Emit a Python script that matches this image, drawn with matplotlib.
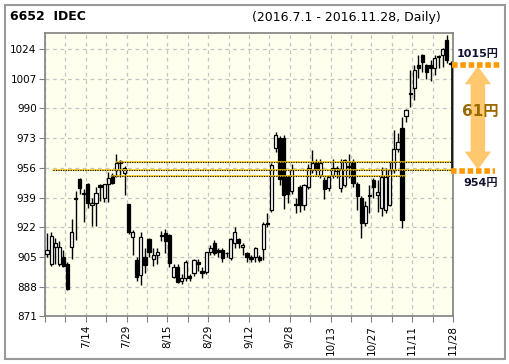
import matplotlib
matplotlib.use("Agg")
import matplotlib.pyplot as plt
from matplotlib.patches import Rectangle, FancyArrowPatch, ArrowStyle
import numpy as np

# daily OHLC, 2016-07-01 .. 2016-11-28 (100 trading days)
opens = [906.5, 901, 911, 901, 905, 901, 910.5, 938, 949.5, 941,
         946.6, 934.8, 936, 946, 939, 946.6, 951.9, 954.8, 960, 952.9,
         935.2, 916.2, 903, 894.7, 905, 915.5, 904, 906, 917.5, 918.6,
         917.6, 893.5, 899, 891, 892.8, 894, 895.7, 902, 897, 896.6,
         908, 912.8, 909, 909, 907.5, 904.3, 912.8, 915.3, 910.5, 907.1,
         905, 904.8, 905, 909.4, 924.5, 931.9, 967.2, 973, 973, 951,
         943, 935.5, 945.2, 934.8, 945.2, 954.8, 958.6, 951.9, 949, 944.3,
         951.9, 954, 944.3, 946.2, 957, 959.6, 946.8, 938.6, 924.3, 940.2,
         949, 940.5, 932.9, 931.9, 935, 954.8, 966.7, 978.7, 985.9, 999,
         1001.5, 1014.9, 1020.6, 1014.9, 1014.9, 1013, 1020, 1020.6, 1029.2, 1016]
highs = [919, 919.5, 916, 914, 909, 902, 927, 943, 950, 944,
         947.5, 938.6, 945, 947, 947, 953.8, 953, 963.8, 960.5, 957.2,
         935.5, 920.4, 905, 919.5, 910, 916, 910, 910, 920, 921,
         918, 901, 901, 895, 903, 895, 904, 904, 899, 908,
         912, 915, 910, 910, 908, 916, 922, 916, 913, 908,
         906, 911, 906, 925, 930, 959, 976.5, 974, 975, 952,
         958, 939, 946, 947, 958, 966, 961, 961, 951, 952,
         961, 957, 961, 961, 964, 961, 948, 940, 937, 946,
         950, 949, 956.7, 956, 960, 977.7, 976, 985.3, 989.5, 1012,
         1015, 1020.6, 1021, 1015.5, 1018, 1020.5, 1020.5, 1024.5, 1032, 1017]
lows = [905, 900, 901, 900, 899.5, 886, 904, 915, 941, 925,
        933, 923, 923, 937, 936.7, 936.7, 947, 950.9, 951, 940.6,
        918, 906, 891, 889, 896, 905, 900, 901, 914, 907,
        899, 893, 890, 889.5, 891, 891, 894, 897, 893, 895,
        906, 906, 905, 902, 905, 903, 910, 910, 906, 902,
        902, 902, 902, 903.3, 922, 931, 965, 946, 932.3, 936,
        941, 930, 931, 932, 944, 953, 952, 950, 938, 943,
        950, 950, 942, 945, 950, 945, 932, 916, 923, 930,
        939, 931, 928.5, 930, 934, 953, 965, 921.4, 982, 991,
        995, 1007.3, 1011, 1007, 1006, 1009, 1013, 1014, 1016, 1015]
closes = [909, 917, 913, 911, 900, 886.5, 919.5, 939, 944.3, 941.5,
          935.7, 936, 941.8, 945, 946.6, 950, 947.2, 959, 958.6, 955.7,
          919.5, 919.1, 893.4, 916.6, 900.5, 908, 906, 908, 917, 914.3,
          901.4, 899.5, 890.5, 893, 902, 893, 903.3, 901, 896, 907.7,
          910, 907.5, 908, 904.3, 907, 915.3, 919.5, 912.8, 911.9, 904.8,
          904, 910.3, 903.5, 923.7, 923.9, 957.6, 974.9, 949.5, 940.5, 941.1,
          954.8, 935, 934.8, 946.2, 955.7, 958.6, 955.2, 959, 943.9, 951,
          955.7, 956, 955.2, 960.5, 956.7, 947.2, 939.9, 924.3, 934.2, 940,
          945, 942.4, 951, 950.6, 954.8, 966.7, 971, 926.2, 989.1, 998.5,
          1012, 1013, 1016.8, 1011.1, 1013, 1019, 1019.2, 1024, 1017.8, 1015.5]

date_labels = ["7/14", "7/29", "8/15", "8/29", "9/12", "9/28",
               "10/13", "10/27", "11/11", "11/28"]
y_ticks = [871, 888, 905, 922, 939, 956, 973, 990, 1007, 1024]

# horizontal reference lines: (price, start day, end day)
ref_lines = [(959.4, 18.1, 100.3), (954.8, 2.4, 100.5), (951.6, 16.8, 88.7)]
low_price, high_price = 954, 1015

W, H = 510, 364
fig = plt.figure(figsize=(W / 100, H / 100), dpi=100)
fig.patch.set_facecolor("white")
fig.patches.append(Rectangle((5 / W, 5 / H), 500 / W, 354 / H, transform=fig.transFigure,
                             fill=False, edgecolor="#999999", lw=1.5))

ax = fig.add_axes([45 / W, 1 - 316.4 / H, 408 / W, 283.4 / H])
ax.set_facecolor("#FFFFEE")

n = len(opens)
x = np.arange(1, n + 1)
o = np.array(opens); c = np.array(closes)
hi = np.array(highs); lo = np.array(lows)

up = c >= o
ax.vlines(x, lo, hi, color="black", lw=1, zorder=3)
bottom = np.minimum(o, c)
height = np.maximum(np.abs(c - o), 0.5)
ax.bar(x[up], height[up], bottom=bottom[up], width=0.78, facecolor="white",
       edgecolor="black", lw=0.9, zorder=4)
ax.bar(x[~up], height[~up], bottom=bottom[~up], width=0.78, facecolor="black",
       edgecolor="black", lw=0.9, zorder=4)

for price, x0, x1 in ref_lines:
    ax.plot([x0, x1], [price, price], color="#F5C800", lw=1.1, zorder=5)
    ax.plot([x0, x1], [price, price], color="black", lw=0.8, dashes=(1, 1.2), zorder=6)

ax.set_xlim(0.5, 100.5)
ax.set_ylim(871, 1033.2)

ax.set_yticks(y_ticks)
ax.set_yticklabels([str(v) for v in y_ticks], fontsize=7.5)
ax.set_xticks(np.arange(0.5, 101, 5))
ax.set_xticklabels([date_labels[k // 2 - 1] if k % 2 == 0 and k > 0 else ""
                    for k in range(21)], rotation=90, fontsize=7.5, va="top")
ax.tick_params(axis="both", length=4, color="#808080", pad=2)
ax.grid(True, color="#C4C4C4", ls=(0, (3, 3)), lw=0.9)
ax.set_axisbelow(True)
for s in ax.spines.values():
    s.set_color("#808080")
    s.set_linewidth(1.2)

# highlight of the rise from 954 to 1015
ax.vlines(100.2, low_price, high_price, color="black", lw=1.2, zorder=7, clip_on=False)
ax.plot([100.2, 112.5], [high_price, high_price], color="#FF9900", lw=4,
        dashes=(1, 0.5), clip_on=False, zorder=7)
ax.plot([100.0, 110.8], [low_price, low_price], color="#FF9900", lw=4,
        dashes=(1, 0.5), clip_on=False, zorder=7)
mid = (low_price + high_price) / 2
style = ArrowStyle.Simple(head_length=13, head_width=19, tail_width=10.5)
for end in (high_price - 0.8, low_price + 1.0):
    ax.add_patch(FancyArrowPatch((106.6, mid), (106.6, end), arrowstyle=style,
                                 mutation_scale=1, color="#FFC86E", lw=0,
                                 shrinkA=0, shrinkB=0, clip_on=False, zorder=6))

cjk = ["DejaVu Sans", "Noto Sans CJK JP"]
ax.text(106.6, 1021.2, f"{high_price}円", ha="center", va="center", fontsize=8,
        fontweight="bold", color="#101030", family=cjk, clip_on=False, zorder=8)
ax.text(107.2, 947.4, f"{low_price}円", ha="center", va="center", fontsize=8,
        fontweight="bold", color="#101030", family=cjk, clip_on=False, zorder=8)
ax.text(107.2, 988.0, f"{high_price - low_price}円", ha="center", va="center",
        fontsize=11, fontweight="bold", color="#9A6A00", family=cjk, clip_on=False,
        zorder=8)

fig.text(10 / W, 1 - 17 / H, "6652  IDEC", fontsize=9, fontweight="bold", va="center")
fig.text(252 / W, 1 - 17 / H, "(2016.7.1 - 2016.11.28, Daily)", fontsize=9, va="center")

fig.savefig("out.png", dpi=100)
